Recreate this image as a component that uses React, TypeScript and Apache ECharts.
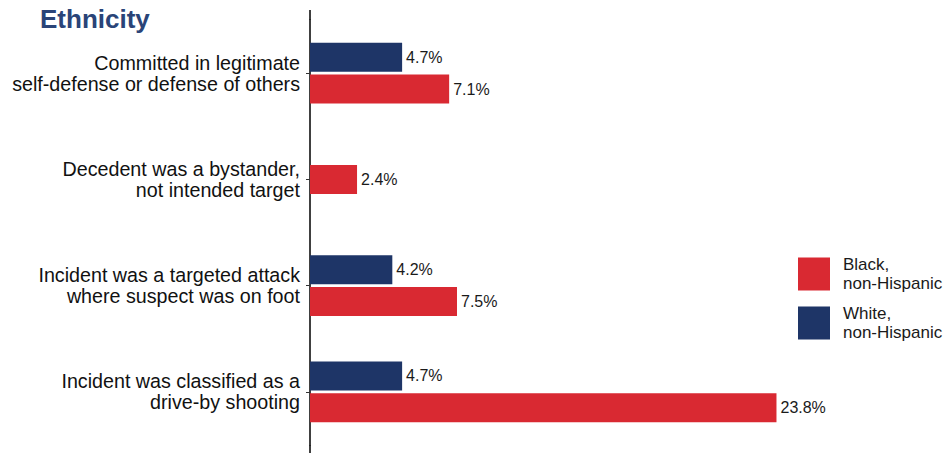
import React, { useEffect, useRef } from "react";
import * as echarts from "echarts";

const categories = [
  "Committed in legitimate\nself-defense or defense of others",
  "Decedent was a bystander,\nnot intended target",
  "Incident was a targeted attack\nwhere suspect was on foot",
  "Incident was classified as a\ndrive-by shooting",
];
const whiteValues: (number | string)[] = [4.7, "-", 4.2, 4.7];
const blackValues: (number | string)[] = [7.1, "-", 7.5, 23.8];
const blackSingle: (number | string)[] = ["-", 2.4, "-", "-"];
const seriesNames = ["Black,\nnon-Hispanic", "White,\nnon-Hispanic"];
const titleText = "Ethnicity";

const RED = "#d92932";
const BLUE = "#1e3567";

export default function App() {
  const ref = useRef<HTMLDivElement>(null);
  useEffect(() => {
    if (!ref.current) return;
    const chart = echarts.init(ref.current, null, { renderer: "svg" });
    const label = {
      show: true,
      position: "right",
      distance: 4,
      formatter: (p: any) => `${p.value}%`,
      color: "#1a1a1a",
      fontSize: 16,
      fontFamily: "Liberation Sans, Arial, sans-serif",
    };
    chart.setOption({
      animation: false,
      backgroundColor: "#ffffff",
      textStyle: { fontFamily: "Liberation Sans, Arial, sans-serif" },
      title: {
        text: titleText,
        left: 35,
        top: 1,
        textStyle: { color: "#2a4478", fontSize: 26, fontWeight: "bold", fontFamily: "Liberation Sans, Arial, sans-serif" },
      },
      legend: {
        orient: "vertical",
        left: 793,
        top: 250,
        itemWidth: 32,
        itemHeight: 33,
        itemGap: 11,
        icon: "rect",
        data: seriesNames,
        textStyle: { fontSize: 17, color: "#1a1a1a", lineHeight: 19, padding: [0, 0, 0, 8] },
      },
      grid: { left: 310, top: 20, bottom: 8, width: 490, containLabel: false },
      xAxis: { type: "value", min: 0, max: 25, show: false },
      yAxis: [
        {
          type: "category",
          data: categories,
          inverse: true,
          axisLine: { show: true, lineStyle: { color: "#000", width: 1.5 } },
          axisTick: { show: true, alignWithLabel: true, length: 4, lineStyle: { color: "#333" } },
          axisLabel: { fontSize: 19.7, color: "#111", margin: 10, lineHeight: 21, align: "right" },
        },
        {
          type: "category",
          data: categories,
          inverse: true,
          show: false,
        },
      ],
      graphic: [
        { type: "line", shape: { x1: 310, y1: 10, x2: 310, y2: 20 }, style: { stroke: "#000", lineWidth: 1.5 } },
        { type: "line", shape: { x1: 310, y1: 445, x2: 310, y2: 453 }, style: { stroke: "#000", lineWidth: 1.5 } },
      ],
      series: [
        {
          name: seriesNames[1],
          type: "bar",
          yAxisIndex: 0,
          data: whiteValues,
          barWidth: 29,
          barGap: "10%",
          itemStyle: { color: BLUE },
          label,
        },
        {
          name: seriesNames[0],
          type: "bar",
          yAxisIndex: 0,
          data: blackValues,
          barWidth: 29,
          barGap: "10%",
          itemStyle: { color: RED },
          label,
        },
        {
          name: seriesNames[0],
          type: "bar",
          yAxisIndex: 1,
          data: blackSingle,
          barWidth: 29,
          itemStyle: { color: RED },
          label,
        },
      ],
    });
    return () => chart.dispose();
  }, []);
  return (
    <div
      ref={ref}
      style={{ position: "absolute", left: 0, top: 0, width: 945, height: 453 }}
    />
  );
}
